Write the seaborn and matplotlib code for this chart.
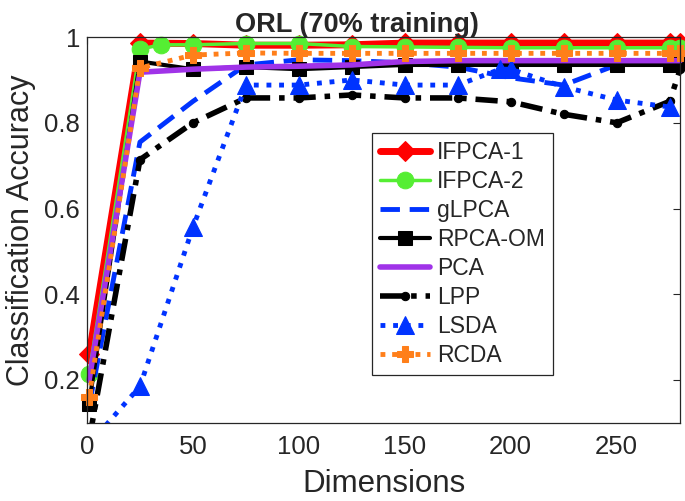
import matplotlib
matplotlib.use('Agg')
import matplotlib.pyplot as plt
import seaborn as sns
import pandas as pd
from matplotlib.patches import Rectangle

# dimensions used for each method
dims = [1, 25, 50, 75, 100, 125, 150, 175, 200, 225, 250, 275, 280]
dims_ifpca2 = [1, 25, 35, 50, 75, 100, 125, 150, 175, 200, 225, 250, 275, 280]
dims_lsda = [1, 25, 50, 75, 100, 125, 150, 175, 195, 200, 225, 250, 275]

# classification accuracy
ifpca1 = [0.26, 0.986, 0.985, 0.981, 0.981, 0.982, 0.986, 0.986, 0.986, 0.986, 0.986, 0.986, 0.986]
ifpca2 = [0.215, 0.972, 0.982, 0.982, 0.985, 0.985, 0.978, 0.977, 0.976, 0.975, 0.975, 0.975, 0.975, 0.975]
glpca = [0.14, 0.755, 0.85, 0.935, 0.947, 0.945, 0.94, 0.93, 0.905, 0.888, 0.935, 0.94, 0.95]
rpcaom = [0.145, 0.943, 0.925, 0.93, 0.925, 0.93, 0.935, 0.935, 0.935, 0.935, 0.935, 0.935, 0.94]
pca = [0.2, 0.918, 0.925, 0.93, 0.932, 0.935, 0.943, 0.945, 0.945, 0.945, 0.945, 0.945, 0.945]
lpp = [0.06, 0.714, 0.80, 0.858, 0.858, 0.865, 0.858, 0.858, 0.849, 0.82, 0.80, 0.85, 0.925]
lsda = [0.05, 0.185, 0.556, 0.888, 0.888, 0.90, 0.888, 0.888, 0.925, 0.925, 0.884, 0.853, 0.837]
rcda = [0.16, 0.928, 0.958, 0.963, 0.962, 0.962, 0.962, 0.962, 0.962, 0.962, 0.962, 0.962, 0.962]

sns.set_style('white')
plt.rcParams['font.family'] = ['Liberation Sans', 'DejaVu Sans']

fig = plt.figure(figsize=(6.85, 5.01), dpi=100)
ax = fig.add_axes([0.127, 0.156, 0.866, 0.770])

# (label, x, y, color, linestyle, lw, marker, markersize)
series = [
    ('IFPCA-1', dims, ifpca1, '#ff0000', '-', 5, 'D', 10),
    ('IFPCA-2', dims_ifpca2, ifpca2, '#55ee33', '-', 2.5, 'o', 12),
    ('gLPCA', dims, glpca, '#0033ff', (0, (4, 2)), 3.5, None, 0),
    ('RPCA-OM', dims, rpcaom, '#000000', '-', 3, 's', 10),
    ('PCA', dims, pca, '#a033e8', '-', 4, None, 0),
    ('LPP', dims, lpp, '#000000', (0, (4, 1.6, 1, 1.6)), 4, 'o', 6),
    ('LSDA', dims_lsda, lsda, '#0033ff', (0, (1, 1.6)), 3.5, '^', 13),
    ('RCDA', dims, rcda, '#ff7f1a', (0, (1, 1.4)), 3.5, 'P', 11),
]

for label, x, y, color, ls, lw, marker, ms in series:
    df = pd.DataFrame({'dim': x, 'acc': y})
    sns.lineplot(data=df, x='dim', y='acc', ax=ax, color=color, linestyle=ls,
                 linewidth=lw, marker=marker, markersize=ms,
                 markeredgecolor=color, label=label)

# let markers poke out over the top like the original, keep bottom clipping
clip = Rectangle((-0.03, 0), 1.06, 1.1, transform=ax.transAxes, visible=False)
ax.add_patch(clip)
for line in ax.lines:
    line.set_clip_path(clip)

ax.set_xlim(0, 280)
ax.set_ylim(0.1, 1.0)
ax.set_xticks([0, 50, 100, 150, 200, 250])
ax.set_yticks([0.2, 0.4, 0.6, 0.8, 1.0])
ax.set_yticklabels(['0.2', '0.4', '0.6', '0.8', '1'])
ax.tick_params(direction='in', length=5, width=0.8, labelsize=18.5, color='#262626',
               top=True, right=True, labeltop=False, labelright=False)
ax.tick_params(axis='x', pad=9)
ax.tick_params(axis='y', pad=5)
for sp in ax.spines.values():
    sp.set_color('#262626')
    sp.set_linewidth(0.9)

ax.set_xlabel('Dimensions', fontsize=22.5, labelpad=7)
ax.set_ylabel('Classification Accuracy', fontsize=22, labelpad=6)
ax.set_title('ORL (70% training)', fontsize=19.5, fontweight='bold', pad=4, x=0.455)

leg = ax.legend(loc='upper left', bbox_to_anchor=(0.48, 0.751), fontsize=16.5,
                frameon=True, fancybox=False, framealpha=1, edgecolor='#262626',
                handlelength=2.2, labelspacing=0.26, borderpad=0.35,
                handletextpad=0.3, borderaxespad=0)
leg.get_frame().set_linewidth(0.9)

fig.savefig('out.png', dpi=100)
